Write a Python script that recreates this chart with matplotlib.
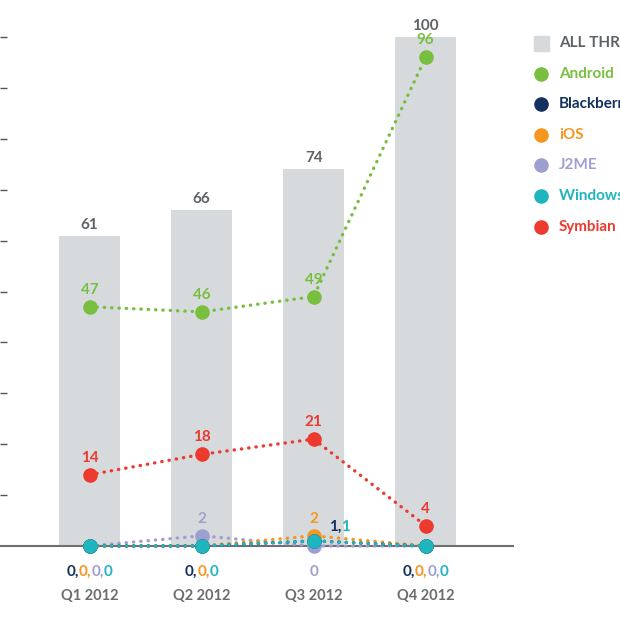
import matplotlib
matplotlib.use("Agg")
import matplotlib.pyplot as plt
from matplotlib.lines import Line2D
from matplotlib.patches import Rectangle

# ---- data ----
categories = ["Q1 2012", "Q2 2012", "Q3 2012", "Q4 2012"]
all_threats = [61, 66, 74, 100]
android = [47, 46, 49, 96]
blackberry = [0, 0, 1, 0]
ios = [0, 0, 2, 0]
j2me = [0, 2, 0, 0]
windows = [0, 0, 1, 0]
symbian = [14, 18, 21, 4]

legend_labels = ["ALL THREATS", "Android", "Blackberry", "iOS", "J2ME", "Windows Mobile", "Symbian"]

C_BAR = "#d6dadd"
C_AND = "#79bf3f"
C_BB = "#14305e"
C_IOS = "#f5961f"
C_J2 = "#9d9fd1"
C_WIN = "#1fb5bf"
C_SYM = "#ec3a2f"
C_TXT = "#5e6165"

plt.rcParams['font.family'] = ['Lato', 'DejaVu Sans']

W = 620
fig = plt.figure(figsize=(6.2, 6.2), dpi=100)
ax = fig.add_axes([0.0, 74 / W, 513 / W, 105 * 5.09 / W])
ax.set_xlim(-0.80, 3.78)
ax.set_ylim(0, 105)
for s in ["top", "right", "left"]:
    ax.spines[s].set_visible(False)
ax.spines["bottom"].set_color("#707070")
ax.spines["bottom"].set_linewidth(1.5)
ax.set_yticks(range(10, 101, 10))
ax.tick_params(axis="y", direction="in", length=5, width=1, color="#555555", labelleft=False)
ax.set_xticks([])

x = list(range(len(categories)))
ax.bar(x, all_threats, width=0.545, color=C_BAR, zorder=1)
for xi, v in zip(x, all_threats):
    ax.annotate(str(v), (xi, v), xytext=(0, 4), textcoords="offset pixels",
                ha="center", va="bottom", fontsize=11, fontweight="bold", color=C_TXT)

def series(vals, color, z):
    ax.plot(x, vals, color=color, lw=2.4, dashes=[0.1, 2.1], dash_capstyle="round",
            zorder=z, clip_on=False)
    ax.plot(x, vals, "o", color=color, ms=10.5, mec="none", zorder=z + 0.5, clip_on=False)

series(j2me, C_J2, 3)
series(ios, C_IOS, 4)
series(blackberry, C_BB, 5)
series(windows, C_WIN, 6)
series(symbian, C_SYM, 7)
series(android, C_AND, 8)

def val_label(xi, v, color, txt=None):
    ax.annotate(txt if txt else str(v), (xi, v), xytext=(0, 10), textcoords="offset pixels",
                ha="center", va="bottom", fontsize=11, fontweight="bold", color=color, zorder=10)

for xi, v in zip(x, android):
    val_label(xi, v, C_AND)
for xi, v in zip(x, symbian):
    val_label(xi, v, C_SYM)
val_label(1, j2me[1], C_J2)
val_label(2, ios[2], C_IOS)

fig.canvas.draw()
renderer = fig.canvas.get_renderer()

def multicolor(xd, yd, pieces, dx_px, dy_px, center=True, fs=11):
    full = "".join(p for p, _ in pieces)
    tmp = ax.text(0, 0, full, fontsize=fs, fontweight="bold")
    w = tmp.get_window_extent(renderer).width
    tmp.remove()
    off = -w / 2 if center else 0
    prev = ax.annotate(pieces[0][0], (xd, yd), xytext=(off + dx_px, dy_px),
                       textcoords="offset pixels", ha="left", va="center",
                       fontsize=fs, fontweight="bold", color=pieces[0][1],
                       annotation_clip=False)
    for t, c in pieces[1:]:
        prev = ax.annotate(t, (1, 0), xycoords=prev, ha="left", va="bottom",
                           fontsize=fs, fontweight="bold", color=c, annotation_clip=False)

zero_series = [(blackberry, C_BB), (ios, C_IOS), (j2me, C_J2), (windows, C_WIN)]
for xi in x:
    zs = [(vals, c) for vals, c in zero_series if vals[xi] == 0]
    pieces = []
    for k, (vals, c) in enumerate(zs):
        pieces.append(("0" + ("," if k < len(zs) - 1 else ""), c))
    multicolor(xi, 0, pieces, 0, -26)
    ax.annotate(categories[xi], (xi, 0), xytext=(0, -50), textcoords="offset pixels",
                ha="center", va="center", fontsize=10.5, fontweight="bold", color="#6a6d70",
                annotation_clip=False)

# "1,1" label for Blackberry / Windows at Q3
multicolor(2, 1, [("1,", C_BB), ("1", C_WIN)], 15, 14, center=False)

# ---- legend ----
leg_y = [43, 74, 104, 135, 165, 196, 227]
leg_colors = [C_BAR, C_AND, C_BB, C_IOS, C_J2, C_WIN, C_SYM]
text_colors = [C_TXT, C_AND, C_BB, C_IOS, C_J2, C_WIN, C_SYM]
for i, (lab, yy) in enumerate(zip(legend_labels, leg_y)):
    yf = 1 - yy / W
    if i == 0:
        fig.add_artist(Rectangle(((541 - 7.5) / W, yf - 7.5 / W), 15 / W, 15 / W,
                                 transform=fig.transFigure, color=leg_colors[i]))
    else:
        fig.add_artist(Line2D([541 / W], [yf], marker="o", ms=10.5, color=leg_colors[i],
                              mec="none", transform=fig.transFigure))
    fig.text(559 / W, yf, lab, ha="left", va="center", fontsize=11, fontweight="bold",
             color=text_colors[i])

fig.savefig("out.png", dpi=100)
